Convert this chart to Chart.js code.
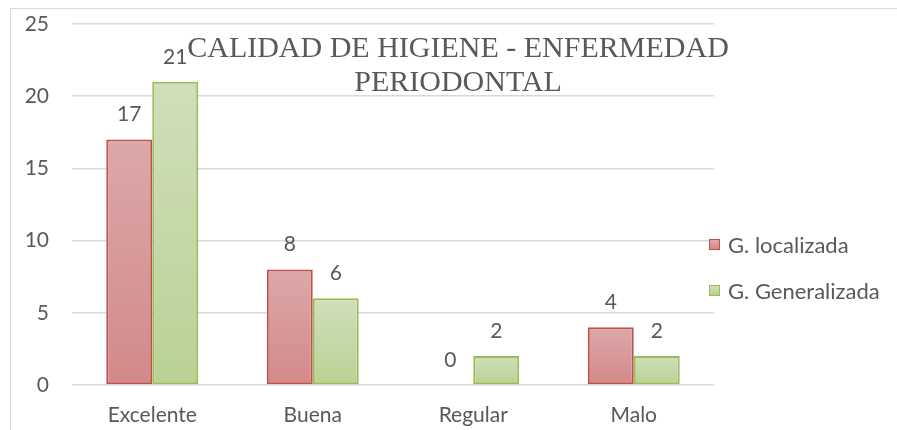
<!DOCTYPE html>
<html>
<head>
<meta charset="utf-8">
<script src="https://cdn.jsdelivr.net/npm/chart.js@4.4.1/dist/chart.umd.min.js"></script>
<style>
  html, body { margin: 0; padding: 0; background: #fff; overflow: hidden; }
  #wrap { position: relative; width: 897px; height: 430px; }
  #frame {
    position: absolute; left: 10px; top: 8px; width: 1000px; height: 1000px;
    border-left: 1.5px solid #d9d9d9; border-top: 1.5px solid #d9d9d9;
  }
  canvas { position: absolute; left: 0; top: 0; }
  .legend-item {
    position: absolute; left: 709px; height: 24px; display: flex; align-items: center;
    font-family: Lato, sans-serif; font-size: 22px; color: #595959; white-space: nowrap;
  }
  .legend-dot { width: 9px; height: 9px; margin-right: 8px; }
</style>
</head>
<body>
<div id="wrap">
  <div id="frame"></div>
  <canvas id="chart" width="897" height="430"></canvas>
  <div id="legend"></div>
</div>
<script>
const CATEGORIES = ['Excelente', 'Buena', 'Regular', 'Malo'];
const SERIES_NAMES = ['G. localizada', 'G. Generalizada'];
const LOCALIZADA = [17, 8, 0, 4];
const GENERALIZADA = [21, 6, 2, 2];
const Y_TICKS = [0, 5, 10, 15, 20, 25];
const TITLE_LINES = ['CALIDAD DE HIGIENE - ENFERMEDAD', 'PERIODONTAL'];

const TEXT_COLOR = '#595959';
const GRID_COLOR = '#d9d9d9';
const RED = { top: '#dca8a9', bottom: '#d3898a', border: '#c0504d' };
const GREEN = { top: '#cfdfbb', bottom: '#bbd194', border: '#9bbb59' };

function barGradient(colors) {
  return (c) => {
    const chart = c.chart;
    const y = chart.scales.y;
    if (!y || !chart.chartArea || c.dataIndex === undefined) return colors.top;
    const top = y.getPixelForValue(c.dataset.data[c.dataIndex]);
    const base = y.getPixelForValue(0);
    if (!isFinite(top) || !isFinite(base) || Math.abs(base - top) < 1) return colors.top;
    const g = chart.ctx.createLinearGradient(0, top, 0, base);
    g.addColorStop(0, colors.top);
    g.addColorStop(1, colors.bottom);
    return g;
  };
}

const valueLabels = {
  id: 'valueLabels',
  afterDatasetsDraw(chart) {
    const { ctx } = chart;
    ctx.save();
    ctx.font = '21px Lato, sans-serif';
    ctx.fillStyle = TEXT_COLOR;
    ctx.textAlign = 'center';
    ctx.textBaseline = 'middle';
    chart.data.datasets.forEach((ds, i) => {
      chart.getDatasetMeta(i).data.forEach((bar, j) => {
        ctx.fillText(String(ds.data[j]), bar.x, bar.y - 25);
      });
    });
    ctx.restore();
  },
};

const overlayTitle = {
  id: 'overlayTitle',
  afterDraw(chart) {
    const { ctx } = chart;
    ctx.save();
    ctx.font = '30px "Liberation Serif", serif';
    ctx.fillStyle = TEXT_COLOR;
    ctx.textAlign = 'center';
    ctx.textBaseline = 'middle';
    TITLE_LINES.forEach((line, i) => ctx.fillText(line, 458, 49 + i * 34));
    ctx.restore();
  },
};

new Chart(document.getElementById('chart'), {
  type: 'bar',
  data: {
    labels: CATEGORIES,
    datasets: [
      {
        label: SERIES_NAMES[0],
        data: LOCALIZADA,
        backgroundColor: barGradient(RED),
        borderColor: RED.border,
        borderWidth: 2,
        borderSkipped: false,
      },
      {
        label: SERIES_NAMES[1],
        data: GENERALIZADA,
        backgroundColor: barGradient(GREEN),
        borderColor: GREEN.border,
        borderWidth: 2,
        borderSkipped: false,
      },
    ],
  },
  options: {
    responsive: false,
    animation: false,
    categoryPercentage: 0.573,
    barPercentage: 1,
    layout: { padding: { left: 0, top: 24, right: 183, bottom: 0 } },
    plugins: { legend: { display: false }, title: { display: false }, tooltip: { enabled: false } },
    scales: {
      x: {
        grid: { display: false },
        border: { display: false },
        ticks: { color: TEXT_COLOR, font: { family: 'Lato', size: 21 }, padding: 10 },
        afterFit: (scale) => { scale.height = 45; },
      },
      y: {
        min: 0,
        max: 25,
        afterBuildTicks: (scale) => { scale.ticks = Y_TICKS.map((v) => ({ value: v })); },
        grid: { color: GRID_COLOR, lineWidth: 1.5, drawTicks: false },
        border: { display: false },
        ticks: { color: TEXT_COLOR, font: { family: 'Lato', size: 21 }, padding: 23 },
        afterFit: (scale) => {
          scale.width = 72;
          scale.paddingTop = 0;
          scale.paddingBottom = 0;
        },
      },
    },
  },
  plugins: [valueLabels, overlayTitle],
});

const legendEl = document.getElementById('legend');
legendEl.innerHTML = SERIES_NAMES.map((name, i) => {
  const c = i === 0 ? RED : GREEN;
  return `
    <div class="legend-item" style="top:${232 + i * 46}px">
      <span class="legend-dot" style="background:linear-gradient(${c.top}, ${c.bottom});border:1.5px solid ${c.border}"></span>
      <span>${name}</span>
    </div>
  `;
}).join('');
</script>
</body>
</html>
